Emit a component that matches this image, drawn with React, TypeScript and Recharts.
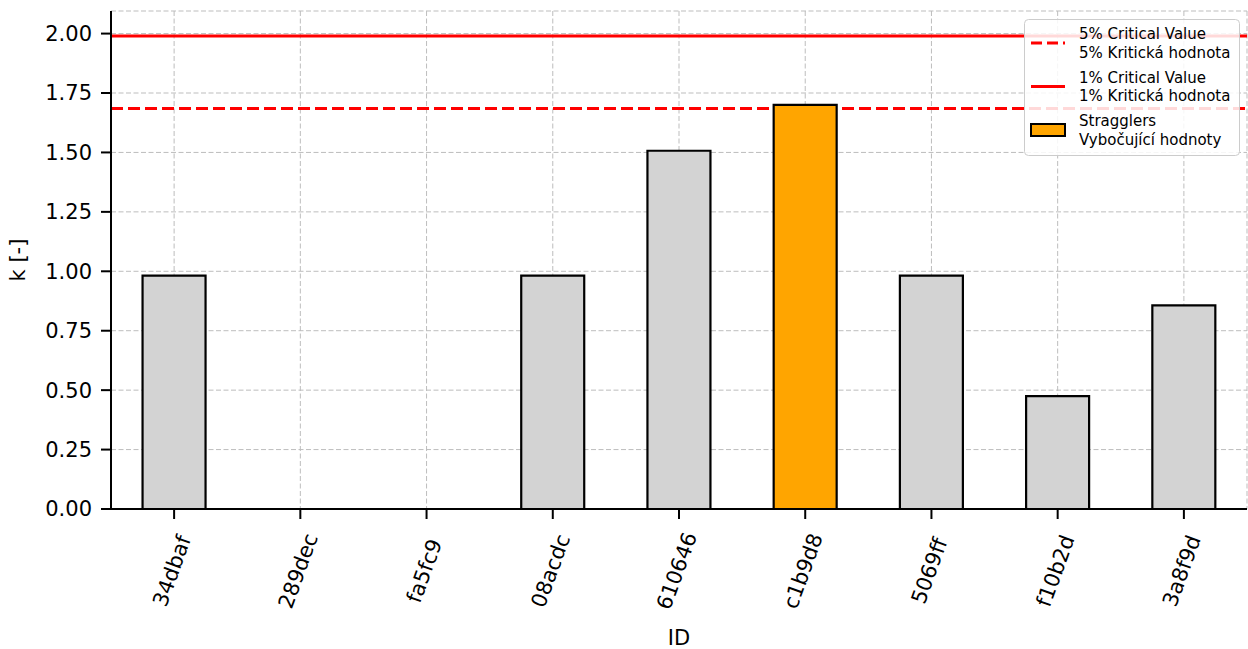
import React from "react";
import {
  BarChart,
  Bar,
  Cell,
  XAxis,
  YAxis,
  CartesianGrid,
  ReferenceLine,
} from "recharts";

const ids = ["34dbaf", "289dec", "fa5fc9", "08acdc", "610646", "c1b9d8", "5069ff", "f10b2d", "3a8f9d"];
const kValues = [0.982, 0, 0, 0.982, 1.507, 1.7, 0.982, 0.475, 0.857];
const stragglers = ["c1b9d8"];
const yTicks = [0, 0.25, 0.5, 0.75, 1.0, 1.25, 1.5, 1.75, 2.0];
const critical5 = 1.685;
const critical1 = 1.99;
const legendLabels = [
  ["5% Critical Value", "5% Kritická hodnota"],
  ["1% Critical Value", "1% Kritická hodnota"],
  ["Stragglers", "Vybočující hodnoty"],
];

const data = ids.map((id, i) => ({ id, k: kValues[i] }));

const FONT = "DejaVu Sans";

const XTick = (props: any) => {
  const { x, y, payload } = props;
  return (
    <g transform={`translate(${x - 2},${y + 52}) rotate(-70)`}>
      <text
        x={0}
        y={0}
        textAnchor="middle"
        dominantBaseline="central"
        fontFamily={FONT}
        fontSize={21}
        fill="#000"
      >
        {payload.value}
      </text>
    </g>
  );
};

const LegendBox = () => {
  const rowY = [0, 43.5, 87];
  return (
    <svg width={216} height={137} style={{ display: "block" }}>
      <rect x={0.5} y={0.5} width={215} height={136} rx={4} ry={4} fill="rgba(255,255,255,0.85)" stroke="#cccccc" strokeWidth={1} />
      {legendLabels.map((lines, i) => {
        const base = rowY[i];
        const mid = base + 24;
        let marker;
        if (i === 0) {
          marker = <line x1={7} x2={41} y1={mid} y2={mid} stroke="#ff0000" strokeWidth={3} strokeDasharray="11 5" />;
        } else if (i === 1) {
          marker = <line x1={7} x2={41} y1={mid} y2={mid} stroke="#ff0000" strokeWidth={3} />;
        } else {
          marker = <rect x={7} y={mid - 6} width={34} height={12} fill="#ffa500" stroke="#000" strokeWidth={2} />;
        }
        return (
          <g key={i}>
            {marker}
            {lines.map((t, j) => (
              <text
                key={j}
                x={55}
                y={base + 15 + j * 18.5}
                dominantBaseline="central"
                fontFamily={FONT}
                fontSize={15}
                fill="#000"
              >
                {t}
              </text>
            ))}
          </g>
        );
      })}
    </svg>
  );
};

export default function App() {
  return (
    <div style={{ position: "absolute", left: 0, top: 0, width: 1248, height: 649, background: "#fff" }}>
      <BarChart
        width={1248}
        height={649}
        data={data}
        margin={{ top: 11, right: 1, bottom: 0, left: 0 }}
        barCategoryGap="25%"
      >
        <CartesianGrid stroke="#bdbdbd" strokeDasharray="5 2.5" strokeWidth={1} />
        <XAxis
          dataKey="id"
          height={140}
          tick={<XTick />}
          tickSize={10}
          tickMargin={0}
          tickLine={{ stroke: "#000", strokeWidth: 2 }}
          axisLine={{ stroke: "#000", strokeWidth: 2 }}
          interval={0}
          label={{ value: "ID", position: "insideBottom", offset: 4, fontFamily: FONT, fontSize: 21, fill: "#000" }}
        />
        <XAxis
          xAxisId="top"
          dataKey="id"
          orientation="top"
          height={0}
          tick={false}
          tickLine={false}
          axisLine={{ stroke: "#000", strokeWidth: 2 }}
        />
        <YAxis
          domain={[0, 2.095]}
          ticks={yTicks}
          allowDataOverflow
          width={111}
          tickSize={10}
          tickMargin={9}
          tickFormatter={(v: number) => v.toFixed(2)}
          tick={{ fontFamily: FONT, fontSize: 21, fill: "#000" }}
          tickLine={{ stroke: "#000", strokeWidth: 2 }}
          axisLine={{ stroke: "#000", strokeWidth: 2 }}
          label={{ value: "k [-]", angle: -90, position: "insideLeft", offset: 18, fontFamily: FONT, fontSize: 21, fill: "#000", style: { textAnchor: "middle" } }}
        />
        <YAxis
          yAxisId="right"
          orientation="right"
          width={0}
          domain={[0, 2.095]}
          tick={false}
          tickLine={false}
          axisLine={{ stroke: "#000", strokeWidth: 2 }}
        />
        <ReferenceLine y={critical1} stroke="#ff0000" strokeWidth={3} ifOverflow="extendDomain" zIndex={50} />
        <ReferenceLine y={critical5} stroke="#ff0000" strokeWidth={3} strokeDasharray="12 5" ifOverflow="extendDomain" zIndex={50} />
        <Bar dataKey="k" isAnimationActive={false} stroke="#000" strokeWidth={2.2} zIndex={300}>
          {data.map((d) => (
            <Cell key={d.id} fill={stragglers.includes(d.id) ? "#ffa500" : "#d3d3d3"} />
          ))}
        </Bar>
      </BarChart>
      <div style={{ position: "absolute", left: 1024, top: 19, width: 216, height: 137 }}>
        <LegendBox />
      </div>
    </div>
  );
}
